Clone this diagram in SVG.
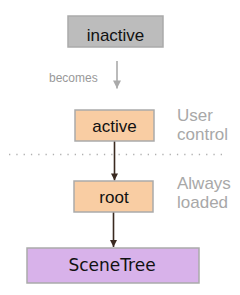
<svg xmlns="http://www.w3.org/2000/svg" width="240" height="295" viewBox="0 0 240 295">
<defs>
<style>
.box{stroke:#aaaaaa;stroke-width:1.5}
.lbl{font-family:"Liberation Sans",Arial,sans-serif;fill:#111;text-anchor:middle;font-size:17px}
.side{font-family:"Liberation Sans",Arial,sans-serif;fill:#a8a8a8;font-size:17px}
.dark{stroke:#3a2a20;stroke-width:1.6;fill:none}
</style>
<marker id="ah" viewBox="0 0 10 10" refX="10" refY="5" markerWidth="11" markerHeight="7" markerUnits="userSpaceOnUse" orient="auto"><path d="M0,0L10,5L0,10z" fill="#3a2a20"/></marker>
<marker id="ag" viewBox="0 0 10 10" refX="10" refY="5" markerWidth="11" markerHeight="8" markerUnits="userSpaceOnUse" orient="auto"><path d="M0,0L10,5L0,10z" fill="#aaaaaa"/></marker>
</defs>
<rect width="240" height="295" fill="#ffffff"/>
<g id="connectors">
<line x1="117" y1="61" x2="117" y2="88.5" stroke="#aaaaaa" stroke-width="1.6" marker-end="url(#ag)"/>
<line class="dark" x1="114.5" y1="141" x2="114.5" y2="180.5" marker-end="url(#ah)"/>
<line class="dark" x1="113.5" y1="212" x2="113.5" y2="247" marker-end="url(#ah)"/>
</g>
<text x="49" y="82" font-family="'Liberation Sans',Arial,sans-serif" font-size="12" fill="#999999">becomes</text>
<line x1="9" y1="154.5" x2="222" y2="154.5" stroke="#b0b0b0" stroke-width="1.3" stroke-dasharray="1.3 6"/>
<g id="inactive">
<rect class="box" x="68" y="16" width="95" height="31" fill="#bcbcbc"/>
<text class="lbl" x="115.5" y="41">inactive</text>
</g>
<g id="active">
<rect class="box" x="75" y="110" width="79" height="31" fill="#f9cda3"/>
<text class="lbl" x="114.5" y="132">active</text>
</g>
<g id="root">
<rect class="box" x="74" y="181" width="79" height="31" fill="#f9cda3"/>
<text class="lbl" x="114" y="203">root</text>
</g>
<g id="scenetree">
<rect class="box" x="27" y="248" width="172" height="35" fill="#d8b2ea"/>
<text x="112" y="271" font-family="'DejaVu Sans',Verdana,sans-serif" font-size="17" fill="#111" text-anchor="middle">SceneTree</text>
</g>
<text class="side" x="177" y="121">User</text>
<text class="side" x="177" y="140">control</text>
<text class="side" x="177" y="189">Always</text>
<text class="side" x="177" y="208">loaded</text>
</svg>
